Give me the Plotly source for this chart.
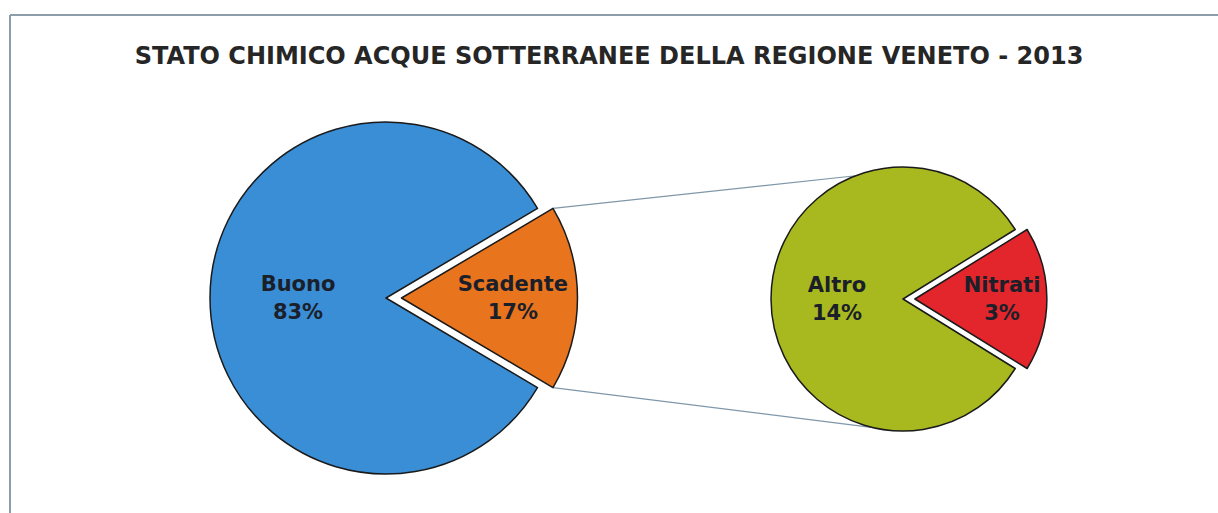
import math
import plotly.graph_objects as go

# ---------------- data ----------------
title_text = "STATO CHIMICO ACQUE SOTTERRANEE DELLA REGIONE VENETO - 2013"
main_labels = ["Scadente", "Buono"]
main_values = [17, 83]
main_colors = ["#e8741e", "#3a8ed6"]

sub_labels = ["Nitrati", "Altro"]
sub_values = [3, 14]
sub_colors = ["#e2262b", "#a8b91f"]

# ---------------- layout geometry (px) ----------------
W, H = 1218, 513
L_CX, L_CY, L_R, L_PULL = 386, 298, 176, 0.088
R_CX, R_CY, R_R, R_PULL = 903, 299, 132, 0.09


def domain(cx, cy, r, pull):
    half = r * (1 + pull)
    return dict(x=[(cx - half) / W, (cx + half) / W],
                y=[1 - (cy + half) / H, 1 - (cy - half) / H])


def start_rotation(values):
    # center the first slice at 3 o'clock, going clockwise
    frac = values[0] / sum(values)
    return 90 - 360 * frac / 2


text_font = dict(family="DejaVu Sans", size=21, color="#1b1f2a")

fig = go.Figure()

fig.add_trace(go.Pie(
    labels=main_labels, values=main_values, sort=False, direction="clockwise",
    rotation=start_rotation(main_values),
    pull=[L_PULL, 0],
    marker=dict(colors=main_colors, line=dict(color="#1a1a1a", width=1.5)),
    texttemplate="<b>%{label}</b><br><b>%{value}%</b>",
    textposition="inside", insidetextorientation="horizontal",
    insidetextfont=text_font,
    domain=domain(L_CX, L_CY, L_R, L_PULL),
    showlegend=False, hoverinfo="label+value",
))

fig.add_trace(go.Pie(
    labels=sub_labels, values=sub_values, sort=False, direction="clockwise",
    rotation=start_rotation(sub_values),
    pull=[R_PULL, 0],
    marker=dict(colors=sub_colors, line=dict(color="#1a1a1a", width=1.5)),
    texttemplate="<b>%{label}</b><br><b>%{value}%</b>",
    textposition="inside", insidetextorientation="horizontal",
    insidetextfont=text_font,
    domain=domain(R_CX, R_CY, R_R, R_PULL),
    showlegend=False, hoverinfo="label+value",
))

# connector lines from the pulled slice corners to the second pie
half_ang = math.radians(360 * main_values[0] / sum(main_values) / 2)
tip_x = L_CX + L_PULL * L_R
top_start = (tip_x + L_R * math.cos(half_ang), L_CY - L_R * math.sin(half_ang))
bot_start = (tip_x + L_R * math.cos(half_ang), L_CY + L_R * math.sin(half_ang))
top_end = (R_CX + R_R * math.cos(math.radians(111)), R_CY - R_R * math.sin(math.radians(111)))
bot_end = (R_CX + R_R * math.cos(math.radians(257)), R_CY - R_R * math.sin(math.radians(257)))

fig.add_trace(go.Scatter(
    x=[top_start[0], top_end[0], None, bot_start[0], bot_end[0]],
    y=[top_start[1], top_end[1], None, bot_start[1], bot_end[1]],
    mode="lines", line=dict(color="#7f97a8", width=1.2),
    hoverinfo="skip", showlegend=False,
))

fig.update_layout(
    width=W, height=H,
    margin=dict(l=0, r=0, t=0, b=0),
    paper_bgcolor="white", plot_bgcolor="rgba(0,0,0,0)",
    xaxis=dict(range=[0, W], visible=False, domain=[0, 1], fixedrange=True),
    yaxis=dict(range=[H, 0], visible=False, domain=[0, 1], fixedrange=True),
    title=dict(text="<b>" + title_text + "</b>", x=0.5, xanchor="center",
               y=1 - 56 / H, yanchor="middle",
               font=dict(family="DejaVu Sans", size=24, color="#262626")),
    shapes=[
        dict(type="line", xref="paper", yref="paper", x0=10 / W, x1=1, y0=1 - 15 / H, y1=1 - 15 / H,
             line=dict(color="#8d9eab", width=2)),
        dict(type="line", xref="paper", yref="paper", x0=10 / W, x1=10 / W, y0=0, y1=1 - 15 / H,
             line=dict(color="#8d9eab", width=2)),
    ],
)

fig.write_html("out.html", config={"displayModeBar": False},
               post_script="document.body.style.margin='0';")
